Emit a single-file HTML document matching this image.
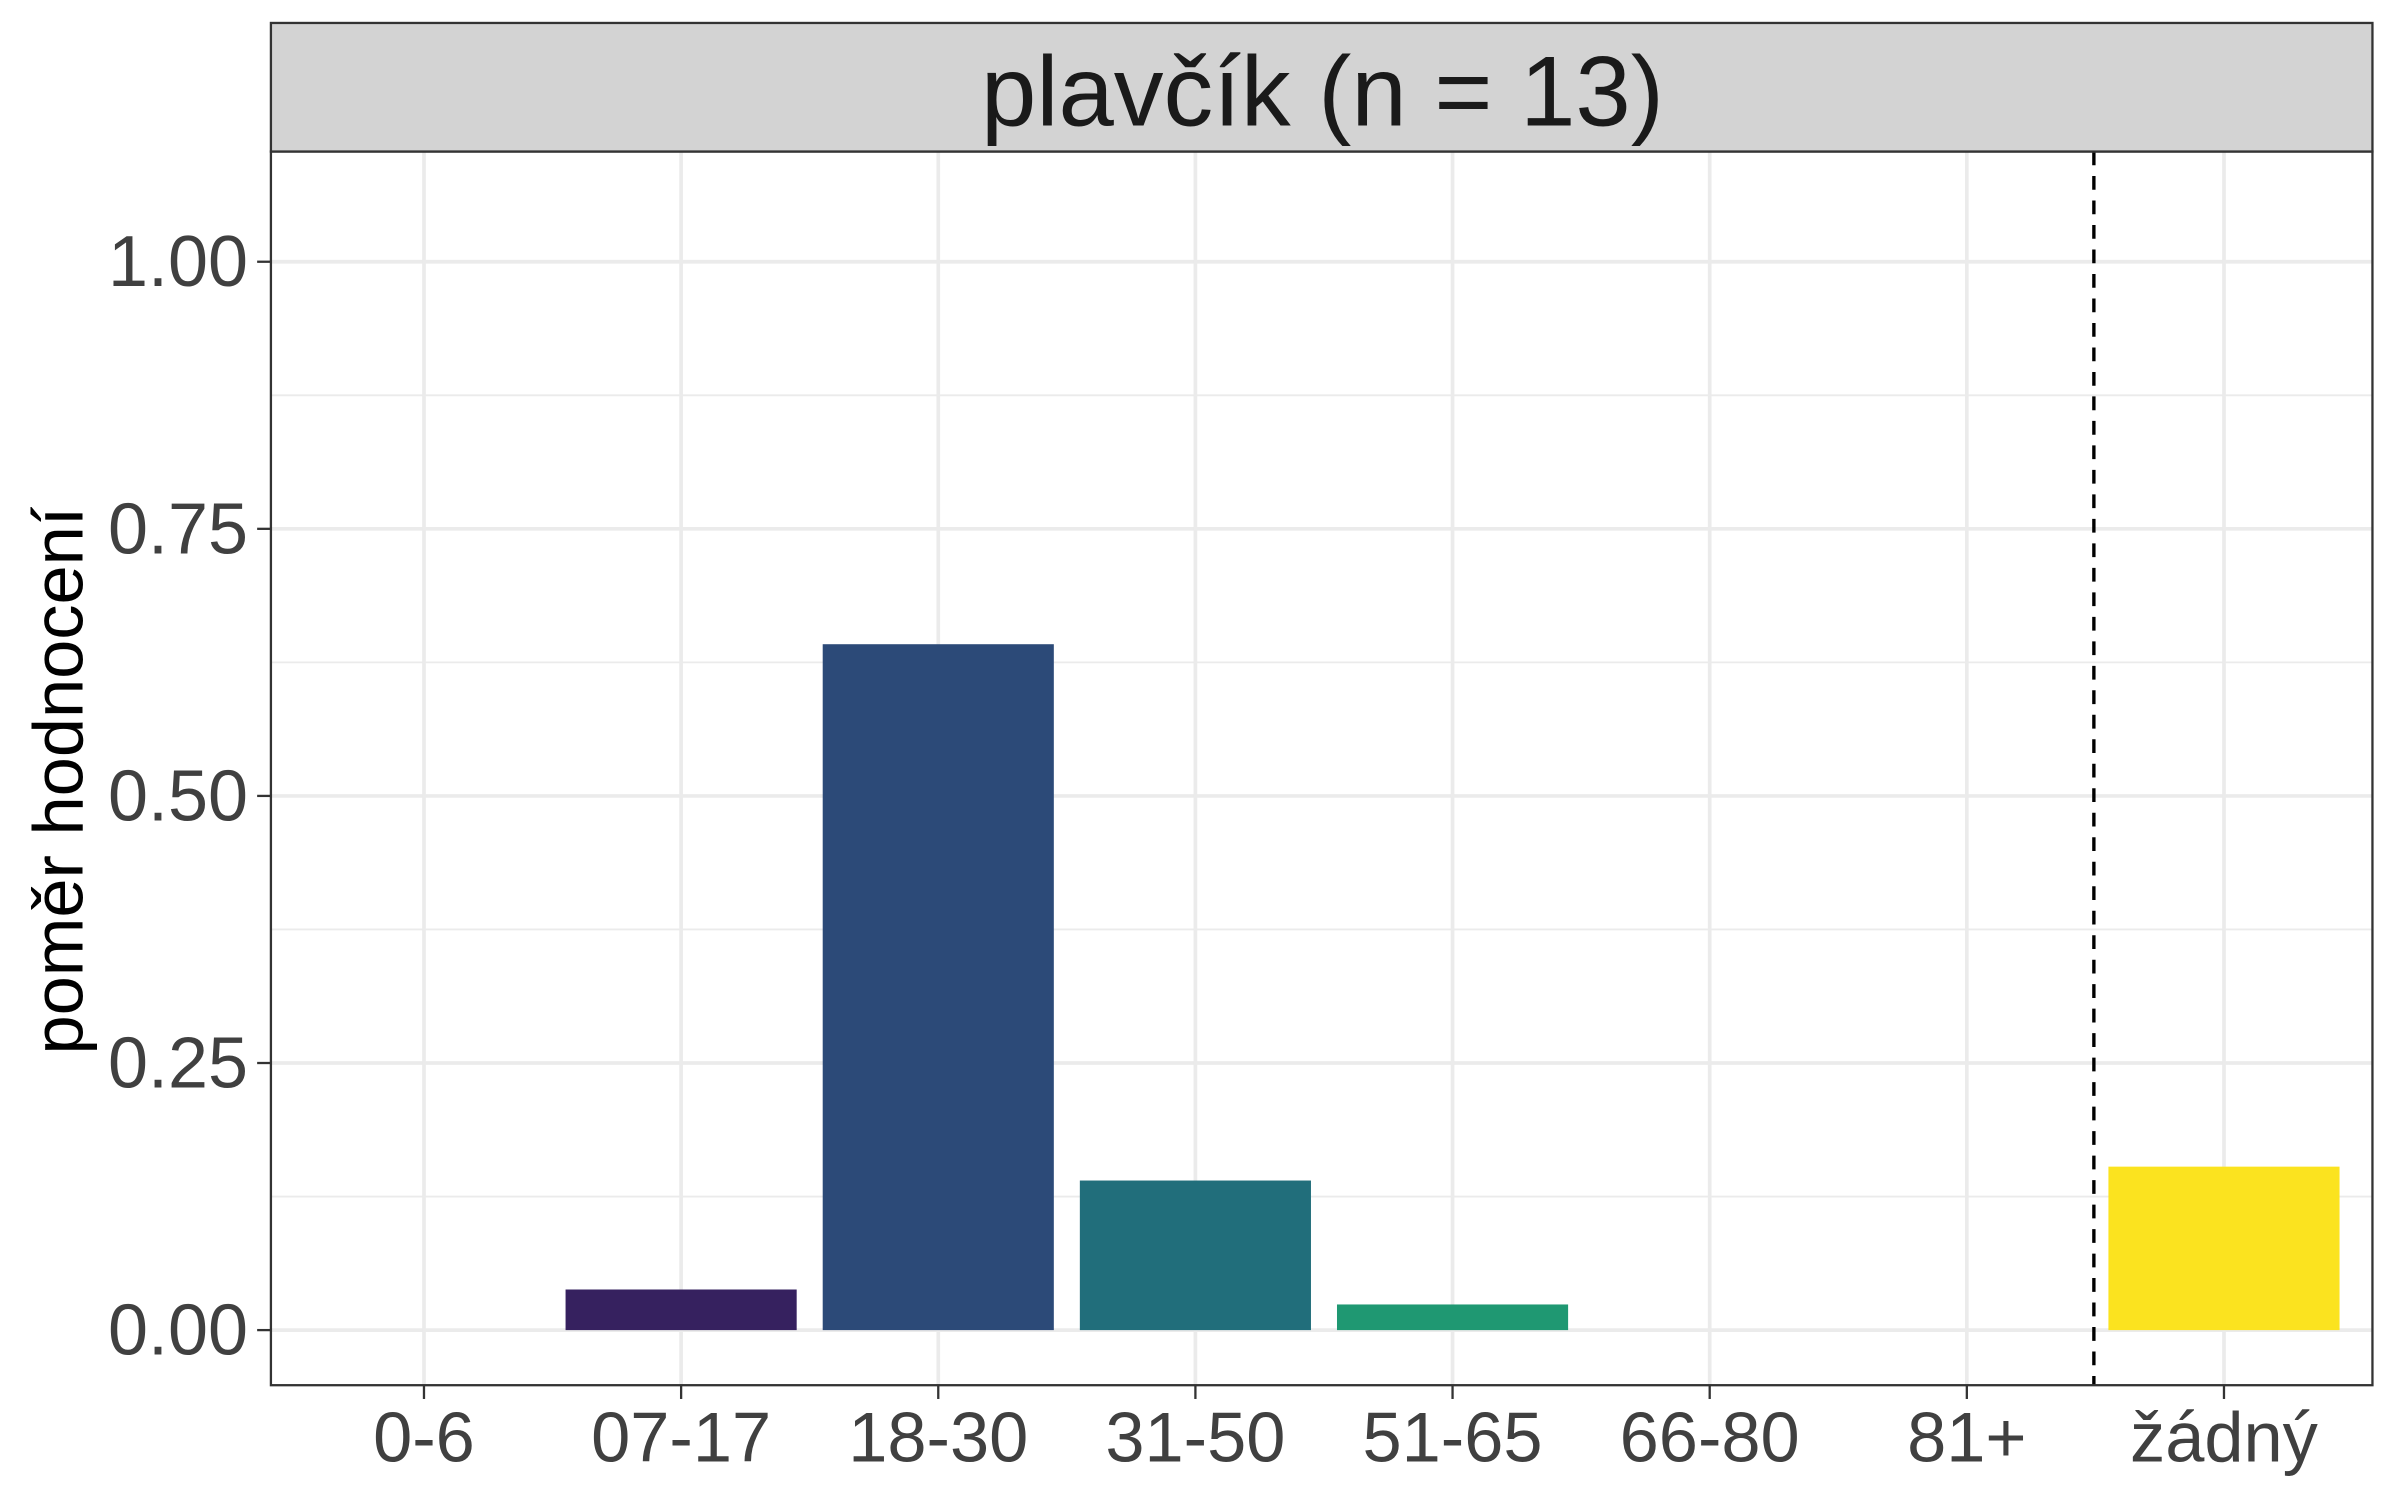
<!DOCTYPE html>
<html><head><meta charset="utf-8"><style>html,body{margin:0;padding:0;background:#fff}svg{display:block}</style></head>
<body>
<svg id="chart" width="2400" height="1500" viewBox="0 0 1568 980" preserveAspectRatio="none" xmlns="http://www.w3.org/2000/svg" font-family="Liberation Sans, Arial, sans-serif">
<rect x="0" y="0" width="1568" height="980" fill="#fff"/>
<g id="grid"></g>
<g id="bars"></g>
<line x1="1368" x2="1368" y1="99" y2="905" stroke="#000" stroke-width="2.2" stroke-dasharray="9,7"/>
<rect x="177" y="99" width="1373" height="806" fill="none" stroke="#333" stroke-width="1.5"/>
<rect x="177" y="15" width="1373" height="84" fill="#d3d3d3" stroke="#333" stroke-width="1.5"/>
<text x="864" y="82" text-anchor="middle" font-size="65" fill="#1a1a1a">plavčík (n = 13)</text>
<text transform="translate(54,510) rotate(-90)" text-anchor="middle" font-size="46" fill="#000">poměr hodnocení</text>
<g id="axes"></g>
</svg>
<script>
const categories=["0-6","07-17","18-30","31-50","51-65","66-80","81+","žádný"];
const values=[0,0.038,0.642,0.140,0.024,0,0,0.153];
const colors=["#440154","#36215f","#2c4a78","#216e7b","#1f9872","#5ec962","#a0da39","#fbe31f"];
const yTicks=[0,0.25,0.5,0.75,1];
const yTickLabels=["0.00","0.25","0.50","0.75","1.00"];
const NS="http://www.w3.org/2000/svg";
const y=v=>869-v*698;
const x=i=>277+i*168;
const bw=151;
function mk(tag,attrs,parent){const e=document.createElementNS(NS,tag);for(const k in attrs)e.setAttribute(k,attrs[k]);parent.appendChild(e);return e;}
const grid=document.getElementById('grid'),bars=document.getElementById('bars'),axes=document.getElementById('axes');
for(let i=0;i<yTicks.length-1;i++){
 const m=(yTicks[i]+yTicks[i+1])/2;
 const l=mk('line',{x1:177,x2:1550,y1:y(m),y2:y(m),stroke:'#ebebeb','stroke-width':1.2},grid);
 
 
}
yTicks.forEach((t,i)=>{
 const l=mk('line',{x1:177,x2:1550,y1:y(t),y2:y(t),stroke:'#ebebeb','stroke-width':2.4},grid);
 
 
 const tk=mk('line',{x1:168,x2:177,y1:y(t),y2:y(t),stroke:'#333','stroke-width':1.5},axes);
 
 
 const tx=mk('text',{x:162,y:y(t)+16,'text-anchor':'end','font-size':47,fill:'#404040'},axes);
 tx.textContent=yTickLabels[i];
 
 
});
categories.forEach((c,i)=>{
 const l=mk('line',{x1:x(i),x2:x(i),y1:99,y2:905,stroke:'#ebebeb','stroke-width':2.4},grid);
 
 
 if(values[i]>0){
  const r=mk('rect',{x:x(i)-bw/2,y:y(values[i]),width:bw,height:y(0)-y(values[i]),fill:colors[i]},bars);
  
  
 }
 const tk=mk('line',{x1:x(i),x2:x(i),y1:905,y2:914,stroke:'#333','stroke-width':1.5},axes);
 
 
 const tx=mk('text',{x:x(i),y:955,'text-anchor':'middle','font-size':46,fill:'#404040'},axes);
 tx.textContent=c;
 
 
});
</script>
</body></html>
